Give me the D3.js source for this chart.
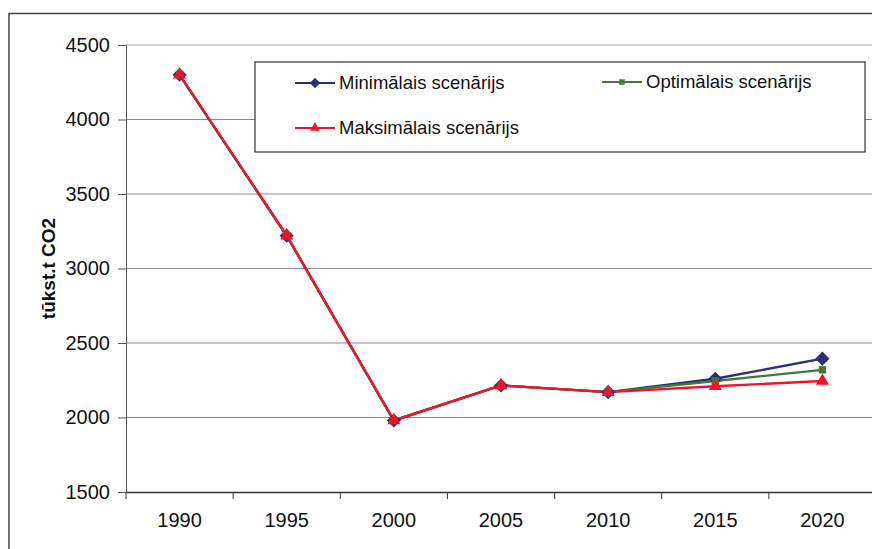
<!DOCTYPE html>
<html><head><meta charset="utf-8">
<script src="https://cdn.jsdelivr.net/npm/d3@7"></script>
<style>body{margin:0;background:#fff}svg{display:block}text{font-family:"Liberation Sans",Arial,sans-serif;fill:#111}</style>
</head><body><svg id="c" width="872" height="549"></svg>
<script>
const years = [1990, 1995, 2000, 2005, 2010, 2015, 2020];
const yTicks = [1500, 2000, 2500, 3000, 3500, 4000, 4500];
const minimal = [4300, 3220, 1980, 2215, 2170, 2260, 2395];
const optimal = [4300, 3220, 1980, 2215, 2170, 2245, 2320];
const maximal = [4300, 3220, 1980, 2215, 2170, 2210, 2245];
const seriesNames = ["Minimālais scenārijs", "Optimālais scenārijs", "Maksimālais scenārijs"];
const yTitle = "tūkst.t CO2";

const series = [
  {name: seriesNames[0], values: minimal, color: "#2b2f77", sym: d3.symbolSquare, size: 100, rot: 45},
  {name: seriesNames[1], values: optimal, color: "#3f7a3a", sym: d3.symbolSquare, size: 55, rot: 0},
  {name: seriesNames[2], values: maximal, color: "#f0142a", sym: d3.symbolTriangle, size: 75, rot: 0}
];

const svg = d3.select("#c");
const L = 126, T = 45, R = 876, B = 492;
const x = d3.scaleBand().domain(years).range([L, R]);
const y = d3.scaleLinear().domain([1500, 4500]).range([B, T]);

// outer frame
svg.append("rect").attr("x", 9).attr("y", 13.5).attr("width", 900).attr("height", 600)
  .attr("fill", "none").attr("stroke", "#444").attr("stroke-width", 1.5);

// gridlines
svg.append("g").selectAll("line").data(yTicks.slice(1)).join("line")
  .attr("x1", L).attr("x2", R).attr("y1", d => y(d)).attr("y2", d => y(d))
  .attr("stroke", (d) => d === 4500 ? "#9aa0c0" : "#8a8a8a").attr("stroke-width", 1);

// y axis
const ya = svg.append("g").attr("transform", `translate(${L},0)`)
  .call(d3.axisLeft(y).tickValues(yTicks).tickSize(8).tickPadding(8).tickFormat(d3.format("d")));
ya.select(".domain").attr("stroke", "#555");
ya.selectAll(".tick line").attr("stroke", "#555");
ya.selectAll("text").attr("font-size", 20).attr("fill", "#111");

// x axis
const xa = svg.append("g").attr("transform", `translate(0,${B})`)
  .call(d3.axisBottom(x).tickSize(0).tickPadding(21));
xa.select(".domain").attr("stroke", "#333").attr("stroke-width", 1.3);
xa.selectAll("text").attr("font-size", 20).attr("fill", "#111");
svg.append("g").selectAll("line").data(years.concat([null])).join("line")
  .attr("x1", (d, i) => L + i * x.step()).attr("x2", (d, i) => L + i * x.step())
  .attr("y1", B).attr("y2", B + 7).attr("stroke", "#333");

// y title
svg.append("text").attr("transform", `translate(55,${(T + B) / 2}) rotate(-90)`)
  .attr("text-anchor", "middle").attr("font-size", 19).attr("font-weight", "bold").text(yTitle);

const cx = d => x(d) + x.bandwidth() / 2;
const line = d3.line().x((v, i) => cx(years[i])).y(v => y(v));

series.forEach(s => {
  svg.append("path").datum(s.values).attr("d", line).attr("fill", "none")
    .attr("stroke", s.color).attr("stroke-width", 2.4);
});
series.forEach(s => {
  svg.append("g").selectAll("path").data(s.values).join("path")
    .attr("transform", (v, i) => `translate(${cx(years[i])},${y(v)}) rotate(${s.rot})`)
    .attr("d", d3.symbol().type(s.sym).size(s.size)).attr("fill", s.color);
});

// legend
const lg = svg.append("g");
lg.append("rect").attr("x", 255).attr("y", 62).attr("width", 610).attr("height", 90)
  .attr("fill", "#fff").attr("stroke", "#333").attr("stroke-width", 1.2);
const lpos = [[295, 83], [602, 82], [295, 128]];
series.forEach((s, i) => {
  const [lx, ly] = lpos[i];
  lg.append("line").attr("x1", lx).attr("x2", lx + 40).attr("y1", ly).attr("y2", ly)
    .attr("stroke", s.color).attr("stroke-width", 2.2);
  lg.append("path").attr("transform", `translate(${lx + 20},${ly}) rotate(${s.rot})`)
    .attr("d", d3.symbol().type(s.sym).size(s.size * 0.55)).attr("fill", s.color);
  lg.append("text").attr("x", lx + 44).attr("y", ly + 6).attr("font-size", 18.5).text(s.name);
});
</script></body></html>
